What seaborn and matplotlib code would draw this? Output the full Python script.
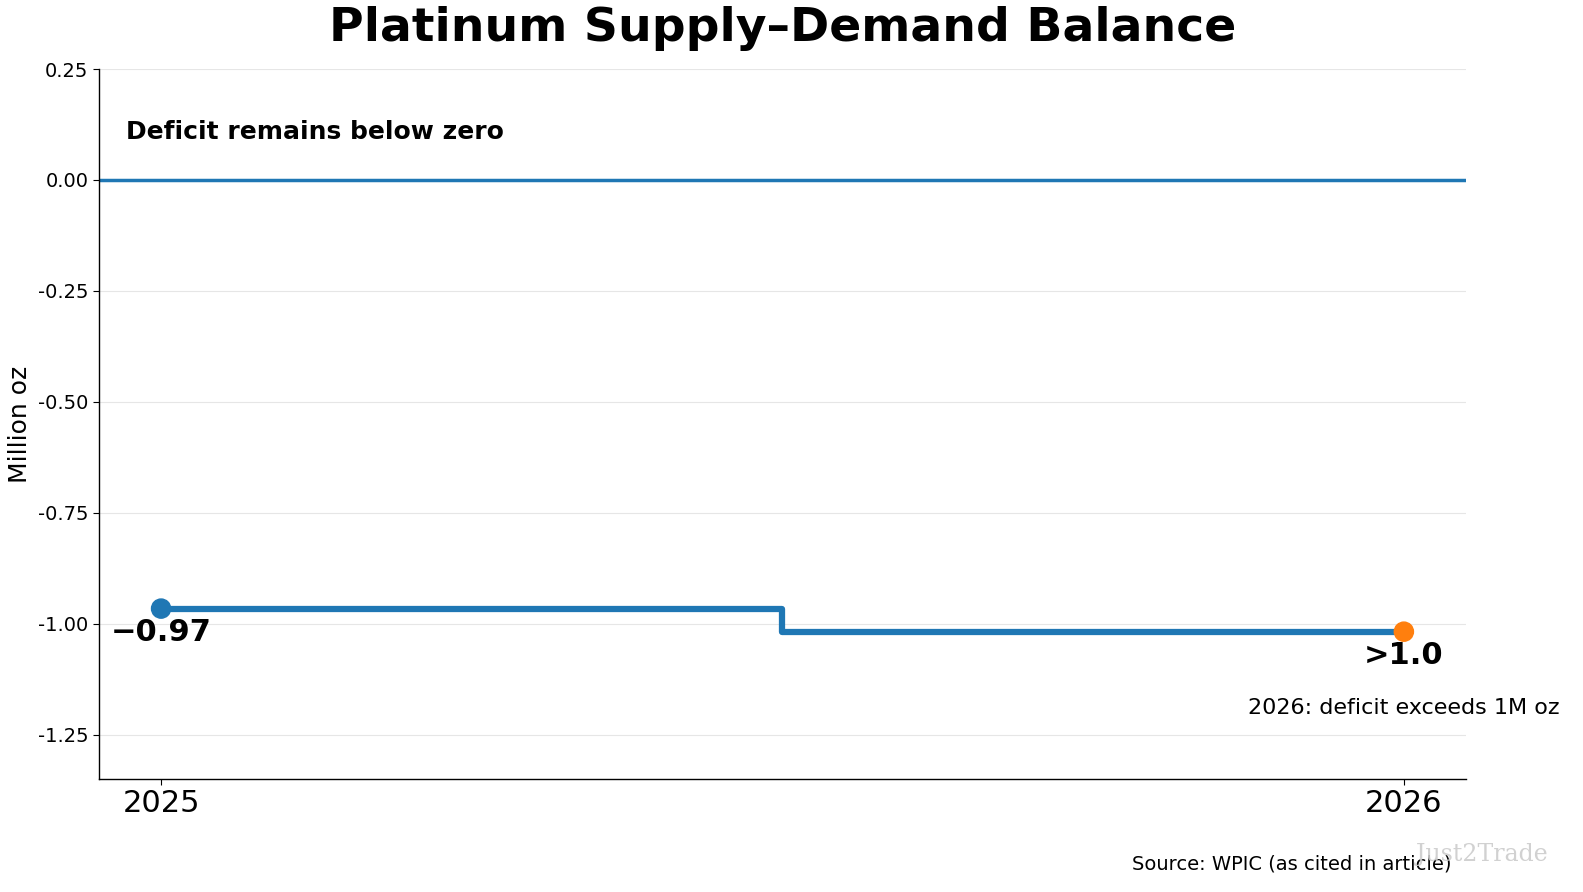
import matplotlib
matplotlib.use("Agg")
import matplotlib.pyplot as plt
import numpy as np
import pandas as pd
import seaborn as sns

# data
years = [2025, 2026]
balance = [-0.966, -1.018]
value_labels = ["\u22120.97", ">1.0"]
point_colors = ["#1f77b4", "#ff7f0e"]
yticks = [0.25, 0.0, -0.25, -0.5, -0.75, -1.0, -1.25]

df = pd.DataFrame({"Year": years, "Balance": balance})

sns.set_style("white")
plt.rcParams["font.family"] = ["DejaVu Sans"]
plt.rcParams["axes.unicode_minus"] = False
plt.rcParams["text.color"] = "black"
plt.rcParams["axes.labelcolor"] = "black"
plt.rcParams["xtick.color"] = "black"
plt.rcParams["ytick.color"] = "black"

fig = plt.figure(figsize=(15.83, 8.92), dpi=100)
ax = fig.add_axes([0.0625, 0.1267, 0.8636, 0.7959])

ax.axhline(0, color="#1f77b4", linewidth=2.5, zorder=2)
sns.lineplot(data=df, x="Year", y="Balance", drawstyle="steps-mid",
             color="#1f77b4", linewidth=4.5, ax=ax, zorder=3)
ax.scatter(df["Year"], df["Balance"], c=point_colors, s=190, zorder=4)

for x, y, lab in zip(years, balance, value_labels):
    ax.annotate(lab, (x, y), xytext=(0, -7), textcoords="offset points",
                ha="center", va="top", fontsize=22, fontweight="bold")

ax.text(0.02, 0.911, "Deficit remains below zero", transform=ax.transAxes,
        fontsize=18, fontweight="bold", va="center", ha="left")
ax.text(2026, -1.19, "2026: deficit exceeds 1M oz", fontsize=16,
        ha="center", va="center", clip_on=False)

ax.set_xlim(2024.95, 2026.05)
ax.set_ylim(-1.35, 0.25)
ax.set_xticks(years)
ax.set_xticklabels([str(y) for y in years], fontsize=22)
ax.set_yticks(yticks)
ax.set_yticklabels([f"{t:.2f}" for t in yticks], fontsize=14)
ax.tick_params(axis="both", length=4, width=0.8, direction="out", left=True, bottom=True)
ax.yaxis.grid(True, color="#e6e6e6", linewidth=0.8)
ax.set_axisbelow(True)
ax.set_xlabel("")
ax.set_ylabel("Million oz", fontsize=18)
ax.set_title("Platinum Supply\u2013Demand Balance", fontsize=34, fontweight="bold", pad=20)

sns.despine(ax=ax)
for s in ["left", "bottom"]:
    ax.spines[s].set_color("black")
    ax.spines[s].set_linewidth(1.0)

fig.text(0.917, 0.031, "Source: WPIC (as cited in article)", ha="right", va="center", fontsize=14)
fig.text(0.978, 0.042, "Just2Trade", ha="right", va="center", fontsize=17,
         family="DejaVu Serif", color="#cccccc", alpha=0.9)

fig.savefig("out.png", dpi=100)
